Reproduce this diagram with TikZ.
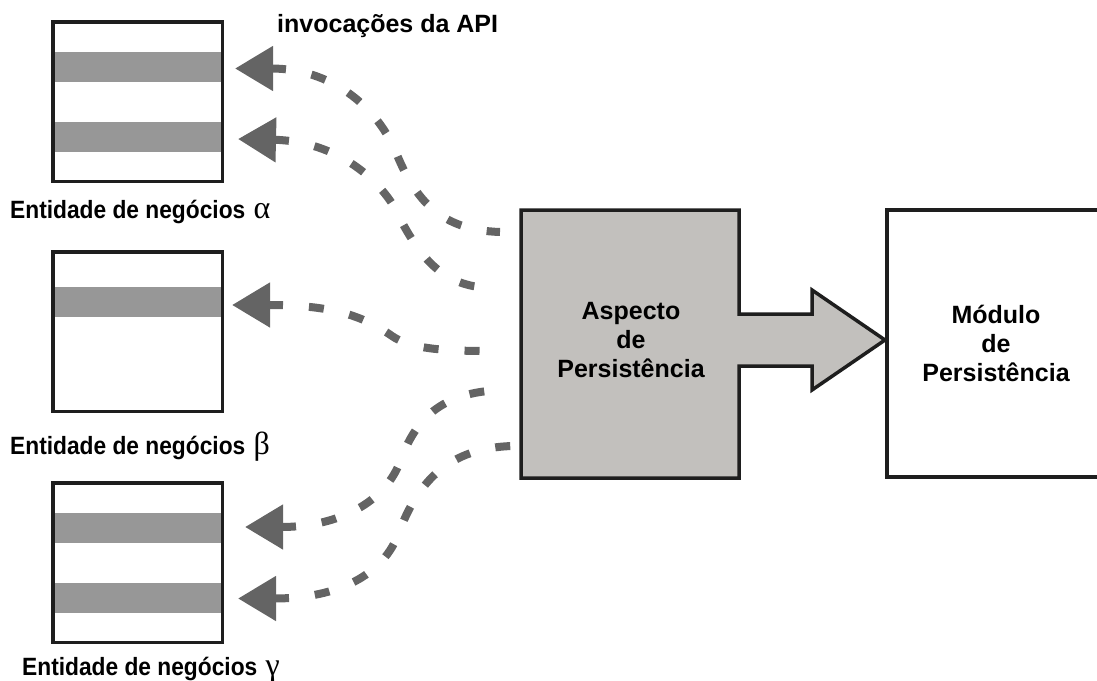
\documentclass[tikz,border=0pt]{standalone}
\usepackage{fontspec}
\setmainfont{Liberation Sans}
\newfontfamily\greekfont{Liberation Serif}
\newfontfamily\narrowfont[FakeStretch=0.91]{Liberation Sans}
\usetikzlibrary{arrows.meta}

\definecolor{inkline}{HTML}{1E1E1E}
\definecolor{stripegray}{HTML}{979797}
\definecolor{callgray}{HTML}{646464}
\definecolor{aspectgray}{HTML}{C2C0BD}

\newcommand{\greekmark}[1]{\hspace{2pt}{\greekfont\mdseries\fontsize{32}{29}\selectfont #1}}

\begin{document}
\begin{tikzpicture}[x=1pt,y=-1pt,
  entity/.style={draw=inkline, line width=3.5pt, inner sep=0pt,
    minimum width=169.5pt, minimum height=159.5pt},
  stripe/.style={fill=stripegray},
  call/.style={draw=callgray, line width=8pt, dash pattern=on 15pt off 26pt,
    {Triangle[length=38pt,width=43pt]}-},
  caption/.style={anchor=base west, inner sep=0pt,
    font=\narrowfont\bfseries\fontsize{25}{29}\selectfont},
  boxtext/.style={align=center, inner sep=0pt,
    font=\bfseries\fontsize{25}{29}\selectfont},
  module/.style={draw=inkline, line width=3.2pt, inner sep=0pt,
    minimum width=218pt, minimum height=267pt, align=center,
    font=\bfseries\fontsize{25}{29}\selectfont},
]
\useasboundingbox (0,0) rectangle (1097,680);

% grey attribute stripes inside the business entities
\fill[stripe] (52,52) rectangle (223,82);
\fill[stripe] (52,122) rectangle (223,152);
\fill[stripe] (52,287) rectangle (223,317);
\fill[stripe] (52,513) rectangle (223,543);
\fill[stripe] (52,583) rectangle (223,613);

% business entities
\node[entity] (ea) at (137.5,101.5) {};
\node[entity] (eb) at (137.5,331.5) {};
\node[entity] (ec) at (137.5,562.5) {};

\node[caption] (la) at (10,218) {Entidade de negócios \greekmark{α}};
\node[caption] (lb) at (10,454) {Entidade de negócios \greekmark{β}};
\node[caption] (lc) at (22,675) {Entidade de negócios \greekmark{γ}};

\node[anchor=base west, inner sep=0pt, font=\bfseries\fontsize{25}{29}\selectfont]
  (api) at (277,32) {invocações da API};

% persistence aspect with its block arrow
\fill[aspectgray, draw=inkline, line width=3.5pt, miter limit=10]
  (521,210) -- (739,210) -- (739,314) -- (812,314) -- (812,290) -- (885,340)
  -- (812,390) -- (812,366) -- (739,366) -- (739,478) -- (521,478) -- cycle;
\node[boxtext] (asp) at (631,340) {Aspecto\\de\\Persistência};

% persistence module
\node[module] (mod) at (996,343.5) {Módulo\\de\\Persistência};

% API call ends
\coordinate (ta) at (235,68.5);
\coordinate (tb) at (238,139);
\coordinate (tc) at (232,305);
\coordinate (td) at (245,527);
\coordinate (te) at (238,598.5);
\coordinate (sa) at (500,232);
\coordinate (sb) at (492,288);
\coordinate (sc) at (492,351);
\coordinate (sd) at (502,390);
\coordinate (se) at (512,446);

% dashed API invocations
\draw[call] (ta) .. controls (330,68.5) and (375,105) .. (395,150)
  .. controls (415,200) and (440,230) .. (sa);
\draw[call] (tb) .. controls (330,141) and (372,172) .. (393,205)
  .. controls (418,255) and (440,287) .. (sb);
\draw[call] (tc) .. controls (330,305) and (362,315) .. (392,336)
  .. controls (412,350) and (450,351) .. (sc);
\draw[call] (td) .. controls (330,527) and (382,508) .. (400,462)
  .. controls (415,420) and (440,392) .. (sd);
\draw[call] (te) .. controls (330,598.5) and (380,580) .. (398,535)
  .. controls (418,480) and (450,448) .. (se);
\end{tikzpicture}
\end{document}
